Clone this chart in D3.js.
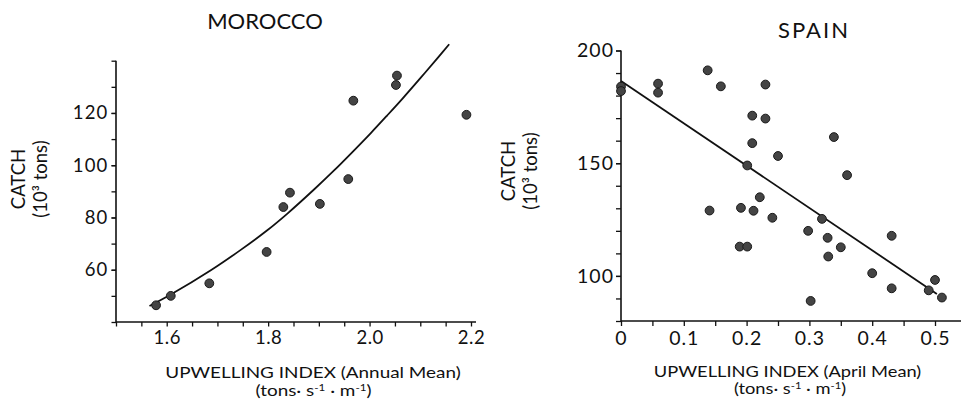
<!DOCTYPE html>
<html>
<head>
<meta charset="utf-8">
<script src="https://cdn.jsdelivr.net/npm/d3@7"></script>
<style>
  body { margin: 0; background: #fff; }
  svg { display: block; }
  text { font-family: Lato, "Open Sans", sans-serif; fill: #111; }
</style>
</head>
<body>
<svg id="chart" width="961" height="412"></svg>
<script>
// ---------- DATA ----------
const moroccoTitle = "MOROCCO";
const spainTitle = "SPAIN";
const yTitle = ["CATCH", "(10³ tons)"];
const moroccoXTitle = "UPWELLING INDEX (Annual Mean)";
const spainXTitle = "UPWELLING INDEX (April Mean)";
// units line: [text, superscript?]
const unitParts = [["(tons· s", false], ["-1", true], [" · m", false], ["-1", true], [")", false]];

// Morocco: annual mean upwelling index vs catch
const moroccoX = [1.579, 1.608, 1.684, 1.797, 1.830, 1.843, 1.902, 1.958, 1.968, 2.052, 2.054, 2.191];
const moroccoY = [46.4, 50.0, 54.8, 66.8, 84.0, 89.5, 85.2, 94.7, 124.7, 130.7, 134.3, 119.3];
// fitted curve
const moroccoFitX = [1.566, 1.608, 1.687, 1.746, 1.797, 1.838, 1.891, 1.930, 1.970, 2.002, 2.035, 2.065, 2.101, 2.134, 2.157];
const moroccoFitY = [46.1, 50.5, 59.8, 67.6, 74.9, 81.5, 90.8, 98.0, 105.8, 112.2, 119.1, 125.5, 133.5, 141.0, 146.3];
const moroccoXTicks = [1.6, 1.8, 2.0, 2.2];
const moroccoYTicks = [60, 80, 100, 120];

// Spain: April mean upwelling index vs catch
const spainX = [0.0, 0.0, 0.059, 0.059, 0.138, 0.159, 0.141, 0.191, 0.189, 0.201, 0.201, 0.209, 0.209, 0.211, 0.221,
                0.230, 0.230, 0.241, 0.250, 0.298, 0.302, 0.320, 0.329, 0.330, 0.339, 0.350, 0.360, 0.400, 0.431, 0.431,
                0.490, 0.500, 0.511];
const spainY = [184.0, 182.0, 185.3, 181.3, 191.2, 184.1, 129.0, 130.2, 113.0, 113.0, 149.0, 171.1, 158.9, 128.9, 134.9,
                184.9, 169.8, 125.8, 153.2, 120.0, 88.9, 125.3, 116.9, 108.6, 161.6, 112.7, 144.7, 101.2, 117.8, 94.5,
                93.6, 98.2, 90.4];
const spainFitX = [0.0, 0.503];
const spainFitY = [186.5, 92.0];
const spainXTicks = [0, 0.1, 0.2, 0.3, 0.4, 0.5];
const spainYTicks = [100, 150, 200];

// ---------- DRAW ----------
const svg = d3.select("#chart");

function range(a, b, step) {
  const out = [];
  for (let v = a; v <= b + step / 1000; v += step) out.push(+v.toFixed(4));
  return out;
}

function panel(cfg) {
  const g = svg.append("g");
  const x = d3.scaleLinear().domain(cfg.xDomain).range(cfg.xRange);
  const y = d3.scaleLinear().domain(cfg.yDomain).range(cfg.yRange);

  // axis lines
  g.append("line").attr("x1", cfg.xRange[0]).attr("x2", cfg.xAxisEnd)
    .attr("y1", cfg.yRange[0]).attr("y2", cfg.yRange[0])
    .attr("stroke", "#111").attr("stroke-width", 1.6);
  g.append("line").attr("x1", cfg.xRange[0]).attr("x2", cfg.xRange[0])
    .attr("y1", cfg.yRange[0]).attr("y2", cfg.yRange[1])
    .attr("stroke", "#111").attr("stroke-width", 1.6);

  // x axis
  const xAxis = d3.axisBottom(x).tickValues(cfg.xMinor).tickSize(cfg.tick).tickSizeOuter(0).tickFormat("");
  const xa = g.append("g").attr("transform", `translate(0,${cfg.yRange[0]})`).call(xAxis);
  xa.select(".domain").remove();
  xa.selectAll("line").attr("stroke", "#111").attr("stroke-width", 1.3);
  const xl = d3.axisBottom(x).tickValues(cfg.xTicks).tickSize(0).tickPadding(cfg.xPad)
    .tickFormat(cfg.xFmt);
  const xlg = g.append("g").attr("transform", `translate(0,${cfg.yRange[0]})`).call(xl);
  xlg.select(".domain").remove();
  xlg.selectAll("text").attr("font-size", cfg.tickFont).style("font-family", "Lato, sans-serif").attr("fill", "#111")
    .attr("letter-spacing", cfg.xLetter);

  // y axis
  const yAxis = d3.axisLeft(y).tickValues(cfg.yMinor).tickSize(cfg.tick).tickSizeOuter(0).tickFormat("");
  const ya = g.append("g").attr("transform", `translate(${cfg.xRange[0]},0)`).call(yAxis);
  ya.select(".domain").remove();
  ya.selectAll("line").attr("stroke", "#111").attr("stroke-width", 1.3);
  const yl = d3.axisLeft(y).tickValues(cfg.yTicks).tickSize(cfg.tick).tickPadding(cfg.yPad).tickFormat(d3.format("d"));
  const ylg = g.append("g").attr("transform", `translate(${cfg.xRange[0]},0)`).call(yl);
  ylg.select(".domain").remove();
  ylg.selectAll("line").attr("stroke", "#111").attr("stroke-width", 1.3);
  ylg.selectAll("text").attr("font-size", cfg.tickFont).style("font-family", "Lato, sans-serif").attr("fill", "#111")
    .attr("letter-spacing", cfg.yLetter);

  // fit line
  const fit = cfg.fitX.map((v, i) => [v, cfg.fitY[i]]);
  g.append("path").datum(fit)
    .attr("d", d3.line().x(d => x(d[0])).y(d => y(d[1])).curve(d3.curveCatmullRom))
    .attr("fill", "none").attr("stroke", "#111").attr("stroke-width", 1.8);

  // points
  const pts = cfg.px.map((v, i) => [v, cfg.py[i]]);
  g.selectAll("circle.pt").data(pts).enter().append("circle")
    .attr("cx", d => x(d[0])).attr("cy", d => y(d[1])).attr("r", 4.4)
    .attr("fill", "#444").attr("stroke", "#1a1a1a").attr("stroke-width", 1);

  // title
  g.append("text").attr("x", cfg.titleX).attr("y", cfg.titleY).attr("text-anchor", "middle")
    .attr("font-size", 22).attr("letter-spacing", cfg.titleLetter).text(cfg.title);

  // x title (2 lines, slightly widened like the scan)
  g.append("text")
    .attr("transform", `translate(${cfg.xtX},${cfg.xtY}) scale(${cfg.xtScale},1)`)
    .attr("text-anchor", "middle").attr("font-size", 15.5).text(cfg.xTitle);
  const u = g.append("text")
    .attr("transform", `translate(${cfg.xtX2},${cfg.xtY + 17.5}) scale(${cfg.xtScale},1)`)
    .attr("text-anchor", "middle").attr("font-size", 15.5);
  unitParts.forEach(([t, sup], i) => {
    const ts = u.append("tspan").text(t);
    if (sup) ts.attr("font-size", 9.5).attr("dy", -5);
    else if (i > 0) ts.attr("dy", 5);
  });

  // y title (rotated)
  const yt = g.append("g").attr("transform", `translate(${cfg.ytX},${cfg.ytY}) rotate(-90)`);
  yt.append("text").attr("x", 0).attr("y", 0).attr("text-anchor", "middle").attr("font-size", 18.5).text(yTitle[0]);
  yt.append("text").attr("x", 0).attr("y", cfg.ytGap).attr("text-anchor", "middle").attr("font-size", 18.5).text(yTitle[1]);
}

panel({
  title: moroccoTitle, titleX: 265, titleY: 28.5, titleLetter: 0,
  xDomain: [1.5, 2.2], xRange: [116, 471], xAxisEnd: 476,
  yDomain: [40, 140], yRange: [322, 60.7],
  xMinor: range(1.5, 2.2, 0.05), xTicks: moroccoXTicks, xFmt: d3.format(".1f"),
  yMinor: range(40, 140, 10), yTicks: moroccoYTicks,
  tick: 4.5, xPad: 9, yPad: 3, tickFont: 18.5, yLetter: 1.2, xLetter: 0.5,
  fitX: moroccoFitX, fitY: moroccoFitY, px: moroccoX, py: moroccoY,
  xTitle: moroccoXTitle, xtX: 313, xtY: 378, xtX2: 313.5, xtScale: 1.22,
  ytX: 25, ytY: 179, ytGap: 22
});

panel({
  title: spainTitle, titleX: 814, titleY: 37.7, titleLetter: 2,
  xDomain: [0, 0.5], xRange: [621, 935], xAxisEnd: 961,
  yDomain: [80, 200], yRange: [321, 50.5],
  xMinor: range(0, 0.5, 0.05), xTicks: spainXTicks, xFmt: d => d === 0 ? "0" : d3.format(".1f")(d),
  yMinor: range(80, 200, 10), yTicks: spainYTicks,
  tick: 5, xPad: 10, yPad: 2, tickFont: 19.5, yLetter: 1, xLetter: 1,
  fitX: spainFitX, fitY: spainFitY, px: spainX, py: spainY,
  xTitle: spainXTitle, xtX: 787.5, xtY: 376.5, xtX2: 790, xtScale: 1.18,
  ytX: 515, ytY: 171, ytGap: 22
});
</script>
</body>
</html>
